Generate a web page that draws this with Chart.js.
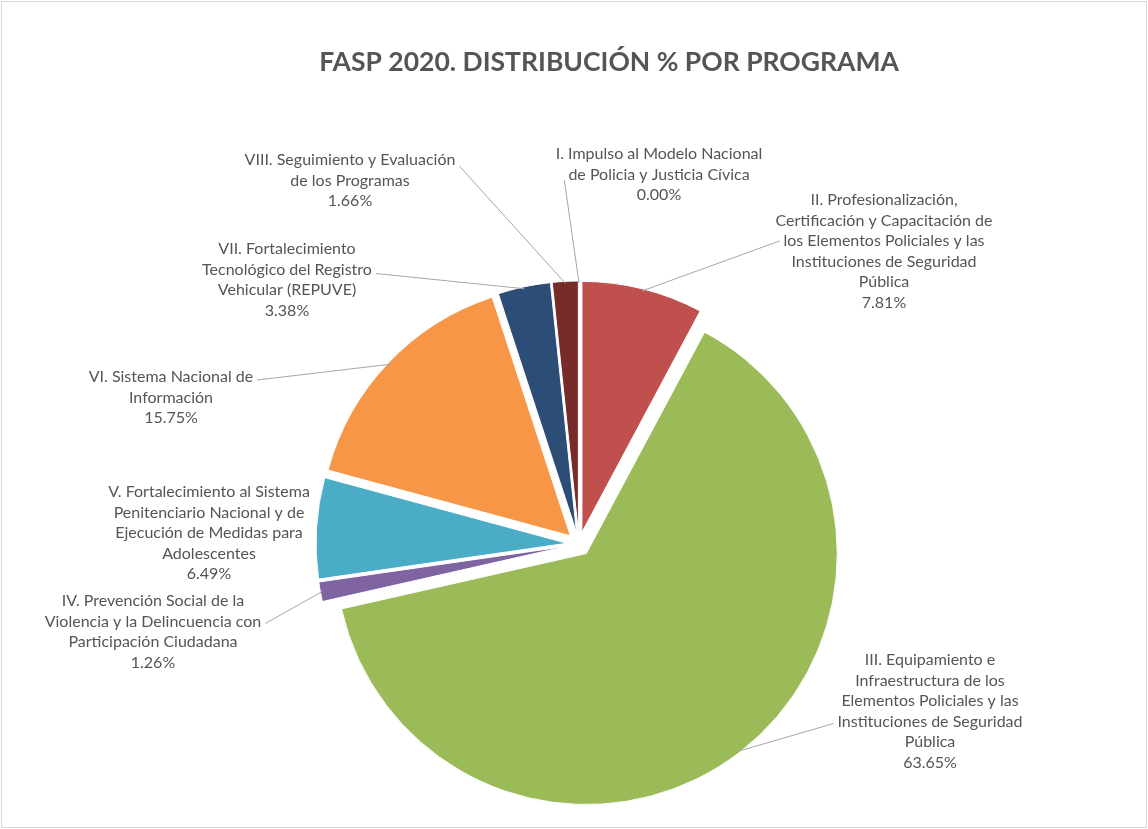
<!DOCTYPE html>
<html lang="es">
<head>
<meta charset="utf-8">
<title>FASP 2020. Distribución % por programa</title>
<script src="https://cdn.jsdelivr.net/npm/chart.js@4.4.1/dist/chart.umd.min.js"></script>
<style>
  html, body { margin: 0; padding: 0; background: #fff; }
  #wrap { width: 1148px; height: 829px; position: relative; }
</style>
</head>
<body>
<div id="wrap"><canvas id="faspChart"></canvas></div>
<script>
// Data
const titulo = 'FASP 2020. DISTRIBUCIÓN % POR PROGRAMA';
const programas = [
  ['I. Impulso al Modelo Nacional', 'de Policia y Justicia Cívica'],
  ['II. Profesionalización,', 'Certificación y Capacitación de', 'los Elementos Policiales y las', 'Instituciones de Seguridad', 'Pública'],
  ['III. Equipamiento e', 'Infraestructura de los', 'Elementos Policiales y las', 'Instituciones de Seguridad', 'Pública'],
  ['IV. Prevención Social de la', 'Violencia y la Delincuencia con', 'Participación Ciudadana'],
  ['V. Fortalecimiento al Sistema', 'Penitenciario Nacional y de', 'Ejecución de Medidas para', 'Adolescentes'],
  ['VI. Sistema Nacional de', 'Información'],
  ['VII. Fortalecimiento', 'Tecnológico del Registro', 'Vehicular (REPUVE)'],
  ['VIII. Seguimiento y Evaluación', 'de los Programas']
];
const porcentajes = [0.00, 7.81, 63.65, 1.26, 6.49, 15.75, 3.38, 1.66];

// styles (Excel 2010 palette)
const colores = ['#4F81BD', '#C0504D', '#9BBB59', '#8064A2', '#4BACC6', '#F79646', '#2C4D75', '#772C2A'];
const TEXT = '#555555';
const EXPLODE = 12;      // px each slice is pulled out
const RADIUS = 251;

// label blocks: first line position relative to the pie centre, and where the leader leaves the block
const etiquetas = [
  { dx: 80,   dy: -390, line: 1, side: 'left',  ly: 6 },
  { dx: 305,  dy: -344, line: 2, side: 'left',  ly: 0 },
  { dx: 351,  dy: 116,  line: 3, side: 'left',  ly: 2 },
  { dx: -426, dy: 57,   line: 1, side: 'right', ly: 2 },
  { dx: -370, dy: -52 },
  { dx: -408, dy: -167, line: 0, side: 'right', ly: 3 },
  { dx: -292, dy: -295, line: 1, side: 'right', ly: 4 },
  { dx: -229, dy: -384, line: 0, side: 'right', ly: 6 }
];

// Excel-style exploded pie: move every slice out along its middle angle
const baseArcDraw = Chart.ArcElement.prototype.draw;
Chart.ArcElement.prototype.draw = function (ctx) {
  const mid = (this.startAngle + this.endAngle) / 2;
  ctx.save();
  ctx.translate(Math.cos(mid) * EXPLODE, Math.sin(mid) * EXPLODE);
  baseArcDraw.call(this, ctx);
  ctx.restore();
};

const frame = {
  id: 'frame',
  beforeDraw(chart) {
    const { ctx, width, height } = chart;
    ctx.save();
    ctx.fillStyle = '#fff';
    ctx.fillRect(0, 0, width, height);
    ctx.strokeStyle = '#d9d9d9';
    ctx.lineWidth = 1;
    ctx.strokeRect(1.5, 1.5, width - 3, height - 3);
    ctx.fillStyle = TEXT;
    ctx.font = 'bold 26.5px Lato, "Open Sans", sans-serif';
    ctx.textAlign = 'center';
    ctx.textBaseline = 'middle';
    ctx.fillText(titulo, 609, 62);
    ctx.restore();
  }
};

const sliceLabels = {
  id: 'sliceLabels',
  afterDatasetsDraw(chart) {
    const ctx = chart.ctx;
    const arcs = chart.getDatasetMeta(0).data;
    const lh = 20.5;
    ctx.save();
    ctx.font = '16px Lato, "Open Sans", sans-serif';
    ctx.textAlign = 'center';
    ctx.textBaseline = 'middle';
    arcs.forEach((arc, i) => {
      const e = etiquetas[i];
      const { x, y, startAngle, endAngle, outerRadius } = arc.getProps(['x', 'y', 'startAngle', 'endAngle', 'outerRadius'], true);
      const lines = programas[i].concat(porcentajes[i].toFixed(2) + '%');
      const bx = x + e.dx, by = y + e.dy;
      if (e.line !== undefined) {
        const mid = (startAngle + endAngle) / 2;
        const r = outerRadius + EXPLODE - 2;
        const w = ctx.measureText(lines[e.line]).width;
        const sx = e.side === 'left' ? bx - w / 2 - 4 : bx + w / 2 + 4;
        const sy = by + e.line * lh + e.ly;
        ctx.strokeStyle = '#a6a6a6';
        ctx.lineWidth = 1;
        ctx.beginPath();
        ctx.moveTo(sx, sy);
        ctx.lineTo(x + Math.cos(mid) * r, y + Math.sin(mid) * r);
        ctx.stroke();
      }
      ctx.fillStyle = TEXT;
      lines.forEach((t, k) => ctx.fillText(t, bx, by + k * lh));
    });
    ctx.restore();
  }
};

new Chart(document.getElementById('faspChart'), {
  type: 'pie',
  data: {
    labels: programas.map(p => p.join(' ')),
    datasets: [{
      data: porcentajes,
      backgroundColor: colores,
      borderColor: '#ffffff',
      borderWidth: 1,
      hoverOffset: 0,
      radius: RADIUS,
      clip: false
    }]
  },
  options: {
    responsive: true,
    maintainAspectRatio: false,
    animation: false,
    layout: { padding: { left: 314, right: 304, top: 280, bottom: 21 } },
    plugins: {
      legend: { display: false },
      title: { display: false },
      tooltip: { enabled: false }
    }
  },
  plugins: [frame, sliceLabels]
});
</script>
</body>
</html>
